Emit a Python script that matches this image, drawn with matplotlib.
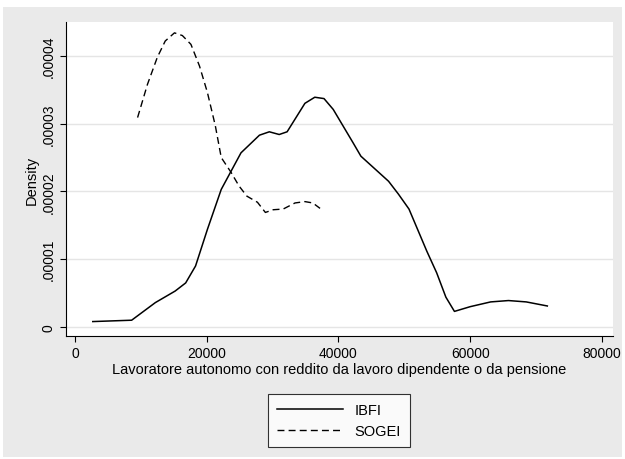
import matplotlib
matplotlib.use("Agg")
import matplotlib.pyplot as plt

ibfi_x = [2700, 8600, 12200, 15200, 16800, 18300, 20100, 22200, 25200, 28000, 29500, 31000, 32200, 34900, 36400, 37800, 39200, 42200, 43400, 47600, 49100, 50700, 53400, 54900, 56300, 57600, 60000, 63100, 65800, 68500, 71700]
ibfi_y = [0.08, 0.10, 0.36, 0.53, 0.65, 0.90, 1.44, 2.03, 2.57, 2.83, 2.88, 2.84, 2.88, 3.30, 3.39, 3.37, 3.21, 2.72, 2.52, 2.15, 1.96, 1.74, 1.12, 0.80, 0.44, 0.23, 0.30, 0.37, 0.39, 0.37, 0.31]
sogei_x = [9500, 11000, 12500, 13700, 15100, 16300, 17600, 18900, 20100, 21300, 22200, 23700, 24900, 26100, 27700, 28900, 30100, 31600, 33400, 34900, 36100, 37200]
sogei_y = [3.09, 3.58, 3.98, 4.22, 4.34, 4.30, 4.17, 3.85, 3.46, 2.97, 2.50, 2.28, 2.08, 1.93, 1.84, 1.69, 1.73, 1.74, 1.83, 1.85, 1.83, 1.75]
ibfi_y = [v * 1e-5 for v in ibfi_y]
sogei_y = [v * 1e-5 for v in sogei_y]
yticks = [0, 0.00001, 0.00002, 0.00003, 0.00004]
ytick_labels = ["0", ".00001", ".00002", ".00003", ".00004"]
xticks = [0, 20000, 40000, 60000, 80000]

plt.rcParams['font.family'] = ['Liberation Sans', 'DejaVu Sans']
fig = plt.figure(figsize=(6.25, 4.6), dpi=100, facecolor='white')
bg = fig.add_axes([3/625, 2/460, 619/625, 450/460])
bg.set_facecolor('#EAEAEA'); bg.set_xticks([]); bg.set_yticks([])
for s in bg.spines.values(): s.set_visible(False)
bg.set_zorder(-5)

ax = fig.add_axes([66/625, 1-337/460, 547/625, 314/460])
ax.set_facecolor('white')
ax.plot(ibfi_x, ibfi_y, color='black', lw=1.1, label='IBFI')
ax.plot(sogei_x, sogei_y, color='black', lw=1.0, ls=(0, (5, 3)), label='SOGEI')
ax.set_xlim(-1366, 81670)
ax.set_ylim(-1.33e-6, 4.50e-5)
ax.set_yticks(yticks)
ax.set_yticklabels(ytick_labels, rotation=90, va='center')
ax.set_xticks(xticks)
ax.set_xticklabels([str(v) for v in xticks])
ax.tick_params(labelsize=10, length=4)
ax.grid(axis='y', color='#E5E5E5', lw=1)
ax.set_axisbelow(True)
for s in ['top', 'right']: ax.spines[s].set_visible(False)
ax.set_xlabel("Lavoratore autonomo con reddito da lavoro dipendente o da pensione", fontsize=10.5, labelpad=1)
ax.set_ylabel("Density", fontsize=10.5, labelpad=2)
leg = ax.legend(loc='upper center', bbox_to_anchor=(339/625, 1-388/460), bbox_transform=fig.transFigure,
                frameon=True, fancybox=False, edgecolor='black', fontsize=10.5, handlelength=4.5,
                borderpad=0.6, labelspacing=0.5)
leg.get_frame().set_linewidth(0.8)
fig.savefig("out.png", dpi=100, facecolor='white')
